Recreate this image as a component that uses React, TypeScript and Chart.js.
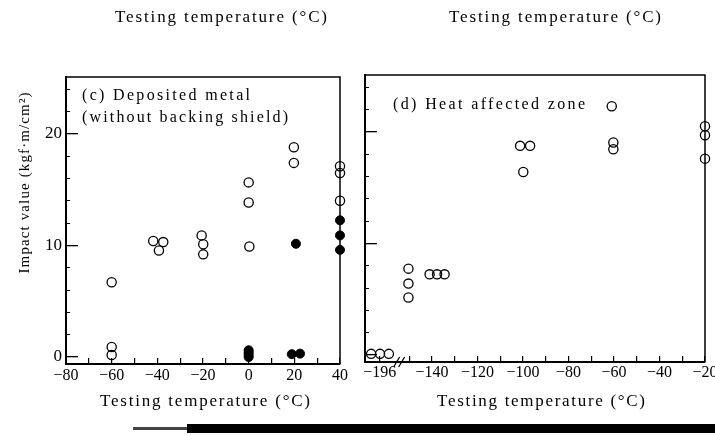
import { useEffect, useRef } from 'react';
import { Chart, registerables } from 'chart.js';
Chart.register(...registerables);

// ---------- data: (c) Deposited metal (without backing shield) ----------
const depOpenTemp = [-60, -60, -60, -41.8, -37.4, -39.3, -20.6, -19.9, -19.9, 0, 0, 0.3, 19.8, 19.8, 40, 40, 40];
const depOpenValue = [6.7, 0.9, 0.18, 10.4, 10.3, 9.55, 10.9, 10.1, 9.2, 15.65, 13.85, 9.9, 18.8, 17.4, 17.1, 16.5, 14.0];
const depFilledTemp = [0, 0, 0, 0, 18.9, 22.5, 20.7, 40, 40, 40];
const depFilledValue = [0, 0.2, 0.4, 0.6, 0.25, 0.3, 10.15, 12.25, 10.9, 9.6];

// ---------- data: (d) Heat affected zone (x read on the broken axis) ----------
const hazOpenTemp = [-166.8, -162.9, -159.0, -150.4, -150.4, -150.4, -141.1, -137.8, -134.5, -101.3, -96.9, -99.9, -61, -60.3, -60.3, -20, -20, -20];
const hazOpenValue = [0.1, 0.1, 0.1, 7.74, 6.4, 5.15, 7.23, 7.23, 7.23, 18.75, 18.75, 16.4, 22.3, 19.05, 18.45, 20.5, 19.7, 17.6];

// ---------- ticks ----------
const depTickValues = [-80, -70, -60, -50, -40, -30, -20, -10, 0, 10, 20, 30, 40];
const depLabelValues = [-80, -60, -40, -20, 0, 20, 40];
const depLabels = ['−80', '−60', '−40', '−20', '0', '20', '40'];

const hazTickValues = [-163, -150, -140, -130, -120, -110, -100, -90, -80, -70, -60, -50, -40, -30, -20];
const hazLabelValues = [-163, -140, -120, -100, -80, -60, -40, -20];
const hazLabels = ['−196', '−140', '−120', '−100', '−80', '−60', '−40', '−20'];

const yMajorValues = [0, 10, 20];
const yMajorLabels = ['0', '10', '20'];
const yMinorValues = [0, 2, 4, 6, 8, 10, 12, 14, 16, 18, 20, 22, 24];

const Y_MIN = -0.63;
const Y_MAX = 25.1;
const FONT = 'Liberation Serif';

type TextSpec = { text: string; x: number; y: number; w: number; size: number; rot?: boolean };

const leftTexts: TextSpec[] = [
  { text: 'Testing temperature (°C)', x: 115, y: 18, w: 212, size: 17 },
  { text: 'Testing temperature (°C)', x: 100, y: 402, w: 210, size: 17 },
  { text: 'Impact value (kgf·m/cm²)', x: 25, y: 183, w: 181, size: 15, rot: true },
  { text: '(c) Deposited metal', x: 82, y: 96, w: 168, size: 16 },
  { text: '(without backing shield)', x: 82, y: 118, w: 206, size: 16 },
];
const rightTexts: TextSpec[] = [
  { text: 'Testing temperature (°C)', x: 449, y: 18, w: 212, size: 17 },
  { text: 'Testing temperature (°C)', x: 437, y: 402, w: 208, size: 17 },
  { text: '(d) Heat affected zone', x: 393, y: 105, w: 192, size: 16 },
];

function drawFitted(ctx: CanvasRenderingContext2D, s: TextSpec) {
  ctx.save();
  ctx.font = `${s.size}px "${FONT}"`;
  ctx.fillStyle = '#000';
  ctx.textBaseline = 'middle';
  ctx.textAlign = 'left';
  (ctx as any).letterSpacing = '0px';
  const w0 = ctx.measureText(s.text).width;
  const sp = (s.w - w0) / Math.max(1, s.text.length - 1);
  (ctx as any).letterSpacing = `${sp}px`;
  if (s.rot) {
    ctx.translate(s.x, s.y);
    ctx.rotate(-Math.PI / 2);
    ctx.fillText(s.text, -s.w / 2, 0);
  } else {
    ctx.fillText(s.text, s.x, s.y);
  }
  ctx.restore();
}

function decorPlugin(texts: TextSpec[], breakAt: number | null) {
  return {
    id: 'decor',
    beforeDatasetsDraw(chart: any) {
      const { ctx, chartArea: a } = chart;
      ctx.save();
      ctx.strokeStyle = '#000';
      ctx.lineWidth = 1.5;
      ctx.beginPath();
      ctx.moveTo(a.left, a.top);
      ctx.lineTo(a.right, a.top);
      ctx.lineTo(a.right, a.bottom);
      ctx.stroke();
      ctx.restore();
    },
    afterDraw(chart: any) {
      const ctx = chart.ctx as CanvasRenderingContext2D;
      texts.forEach((t) => drawFitted(ctx, t));
      if (breakAt !== null) {
        const x = chart.scales.x.getPixelForValue(breakAt);
        const y = chart.chartArea.bottom;
        ctx.save();
        ctx.strokeStyle = '#000';
        ctx.lineWidth = 1.3;
        [-2.5, 2.5].forEach((dx) => {
          ctx.beginPath();
          ctx.moveTo(x + dx - 3, y + 5);
          ctx.lineTo(x + dx + 3, y - 5);
          ctx.stroke();
        });
        ctx.restore();
      }
    },
  };
}

function labelFor(v: number, values: number[], labels: string[]) {
  const i = values.findIndex((q) => Math.abs(q - v) < 1e-6);
  return i >= 0 ? labels[i] : '';
}

function pts(xs: number[], ys: number[]) {
  return xs.map((x, i) => ({ x, y: ys[i] }));
}

const openStyle = {
  pointStyle: 'circle',
  pointRadius: 4.6,
  pointBorderWidth: 1.3,
  pointBorderColor: '#000',
  pointBackgroundColor: 'rgba(0,0,0,0)',
  borderColor: '#000',
  backgroundColor: 'rgba(0,0,0,0)',
  clip: false as const,
};
const filledStyle = {
  pointStyle: 'circle',
  pointRadius: 4.5,
  pointBorderWidth: 1,
  pointBorderColor: '#000',
  pointBackgroundColor: '#000',
  borderColor: '#000',
  backgroundColor: '#000',
  clip: false as const,
};

function yScales(width: number, showLabels: boolean) {
  return {
    y: {
      type: 'linear' as const,
      position: 'left' as const,
      weight: 1,
      min: Y_MIN,
      max: Y_MAX,
      afterBuildTicks: (s: any) => {
        s.ticks = yMajorValues.map((v) => ({ value: v }));
      },
      afterFit: (s: any) => {
        s.width = width;
      },
      ticks: {
        display: showLabels,
        padding: 16,
        color: '#000',
        font: { family: FONT, size: 17 },
        callback: (v: any) => labelFor(Number(v), yMajorValues, yMajorLabels),
      },
      grid: { drawOnChartArea: false, drawTicks: true, tickLength: -12, color: '#000', lineWidth: 1.3 },
      border: { display: true, color: '#000', width: 2 },
    },
    yMinor: {
      type: 'linear' as const,
      position: 'left' as const,
      weight: 0,
      min: Y_MIN,
      max: Y_MAX,
      afterBuildTicks: (s: any) => {
        s.ticks = yMinorValues.map((v) => ({ value: v }));
      },
      afterFit: (s: any) => {
        s.width = 0;
      },
      ticks: { display: false },
      grid: { drawOnChartArea: false, drawTicks: true, tickLength: -4, color: '#000', lineWidth: 1 },
      border: { display: false },
    },
  };
}

function xScale(min: number, max: number, tickVals: number[], labVals: number[], labs: string[], height: number, pad: number) {
  return {
    type: 'linear' as const,
    position: 'bottom' as const,
    min,
    max,
    afterBuildTicks: (s: any) => {
      s.ticks = tickVals.map((v) => ({ value: v }));
    },
    afterFit: (s: any) => {
      s.height = height;
      s.paddingLeft = 0;
      s.paddingRight = 0;
    },
    ticks: {
      autoSkip: false,
      maxRotation: 0,
      minRotation: 0,
      padding: pad,
      color: '#000',
      font: { family: FONT, size: 16 },
      callback: (v: any) => labelFor(Number(v), labVals, labs),
    },
    grid: { drawOnChartArea: false, drawTicks: true, tickLength: -6, color: '#000', lineWidth: 1.2 },
    border: { display: true, color: '#000', width: 2 },
  };
}

export default function App() {
  const leftRef = useRef<HTMLCanvasElement>(null);
  const rightRef = useRef<HTMLCanvasElement>(null);

  useEffect(() => {
    const left = new Chart(leftRef.current!, {
      type: 'scatter',
      data: {
        datasets: [
          { ...openStyle, data: pts(depOpenTemp, depOpenValue) } as any,
          { ...filledStyle, data: pts(depFilledTemp, depFilledValue) } as any,
        ],
      },
      options: {
        animation: false,
        responsive: false,
        events: [],
        layout: { padding: { left: 0, top: 77, right: 375, bottom: 0 } },
        plugins: { legend: { display: false }, tooltip: { enabled: false } },
        scales: {
          x: xScale(-80, 40, depTickValues, depLabelValues, depLabels, 72, 8),
          ...yScales(66, true),
        } as any,
      },
      plugins: [decorPlugin(leftTexts, null) as any],
    });

    const right = new Chart(rightRef.current!, {
      type: 'scatter',
      data: {
        datasets: [{ ...openStyle, data: pts(hazOpenTemp, hazOpenValue) } as any],
      },
      options: {
        animation: false,
        responsive: false,
        events: [],
        layout: { padding: { left: 0, top: 75, right: 10, bottom: 0 } },
        plugins: { legend: { display: false }, tooltip: { enabled: false } },
        scales: {
          x: xScale(-169.5, -20, hazTickValues, hazLabelValues, hazLabels, 74, 7),
          ...yScales(365, false),
        } as any,
      },
      plugins: [decorPlugin(rightTexts, -154.5) as any],
    });

    return () => {
      left.destroy();
      right.destroy();
    };
  }, []);

  const canvasStyle: React.CSSProperties = { position: 'absolute', left: 0, top: 0, width: 715, height: 436 };
  return (
    <div style={{ position: 'absolute', left: 0, top: 0, width: 715, height: 436, background: '#fff', overflow: 'hidden' }}>
      <canvas ref={leftRef} width={715} height={436} style={canvasStyle} />
      <canvas ref={rightRef} width={715} height={436} style={canvasStyle} />
      <div style={{ position: 'absolute', left: 133, top: 427, width: 54, height: 3, background: '#444' }} />
      <div style={{ position: 'absolute', left: 187, top: 424, width: 528, height: 9, background: '#000' }} />
    </div>
  );
}
